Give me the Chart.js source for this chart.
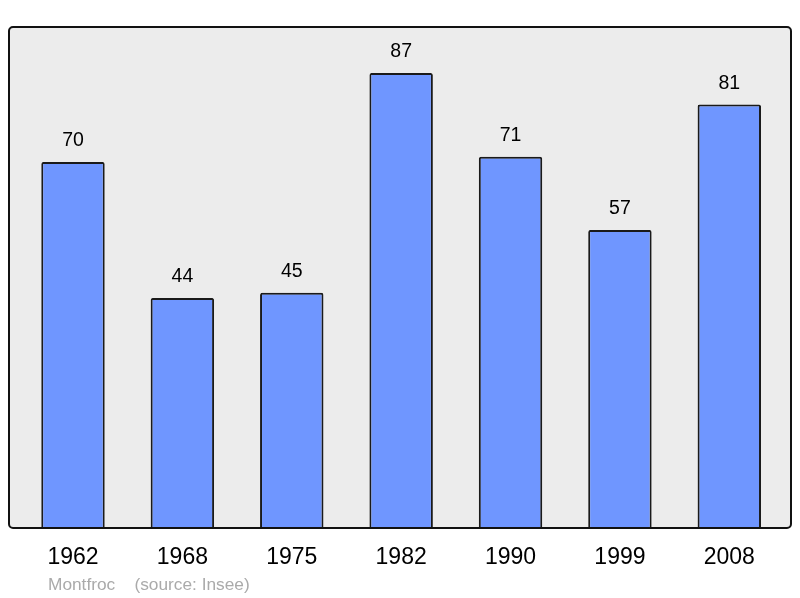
<!DOCTYPE html>
<html>
<head>
<meta charset="utf-8">
<script src="https://cdn.jsdelivr.net/npm/chart.js@4"></script>
<style>
html,body{margin:0;padding:0;background:#fff;}
#wrap{width:800px;height:598px;}
</style>
</head>
<body>
<div id="wrap"><canvas id="c" width="800" height="598"></canvas></div>
<script>
const years = ["1962","1968","1975","1982","1990","1999","2008"];
const population = [70,44,45,87,71,57,81];
const footerText = "Montfroc    (source: Insee)";

const boxPlugin = {
  id: 'boxPlugin',
  beforeDraw(chart) {
    const {ctx, chartArea: a} = chart;
    ctx.save();
    const x0 = a.left - 9.3, x1 = a.right + 7, y0 = a.top, y1 = a.bottom;
    ctx.beginPath();
    ctx.roundRect(x0, y0, x1 - x0, y1 - y0, 4);
    ctx.fillStyle = '#ececec';
    ctx.fill();
    ctx.restore();
  },
  afterDatasetsDraw(chart) {
    const {ctx, chartArea: a} = chart;
    ctx.save();
    const x0 = a.left - 9.3, x1 = a.right + 7, y0 = a.top, y1 = a.bottom;
    ctx.beginPath();
    ctx.roundRect(x0, y0, x1 - x0, y1 - y0, 4);
    ctx.lineWidth = 2;
    ctx.strokeStyle = '#111';
    ctx.stroke();
    // value labels
    const meta = chart.getDatasetMeta(0);
    ctx.fillStyle = '#000';
    ctx.font = '19.5px "Liberation Sans", Arial, sans-serif';
    ctx.textAlign = 'center';
    ctx.textBaseline = 'middle';
    meta.data.forEach((bar, i) => {
      ctx.fillText(String(chart.data.datasets[0].data[i]), bar.x, bar.y - 21);
    });
    // footer
    ctx.fillStyle = '#aaaaaa';
    ctx.font = '17.3px "Liberation Sans", Arial, sans-serif';
    ctx.textAlign = 'left';
    ctx.textBaseline = 'alphabetic';
    ctx.fillText(footerText, 48, 590);
    ctx.restore();
  }
};

new Chart(document.getElementById('c'), {
  type: 'bar',
  data: {
    labels: years,
    datasets: [{
      data: population,
      backgroundColor: '#6f96ff',
      borderColor: '#1a1a1a',
      borderWidth: 2,
      borderSkipped: 'bottom',
      borderRadius: {topLeft: 2, topRight: 2, bottomLeft: 0, bottomRight: 0},
      barPercentage: 0.58,
      categoryPercentage: 1.0
    }]
  },
  options: {
    responsive: false,
    animation: false,
    devicePixelRatio: 1,
    layout: {padding: {left: 18.3, right: 16, top: 27, bottom: 10.4}},
    plugins: {legend: {display: false}, tooltip: {enabled: false}},
    scales: {
      x: {
        grid: {display: false, drawTicks: false},
        border: {display: false},
        ticks: {
          color: '#000',
          padding: 16,
          font: {family: '"Liberation Sans", Arial, sans-serif', size: 23}
        }
      },
      y: {
        display: false,
        min: 0,
        max: 95.8
      }
    }
  },
  plugins: [boxPlugin]
});
</script>
</body>
</html>
